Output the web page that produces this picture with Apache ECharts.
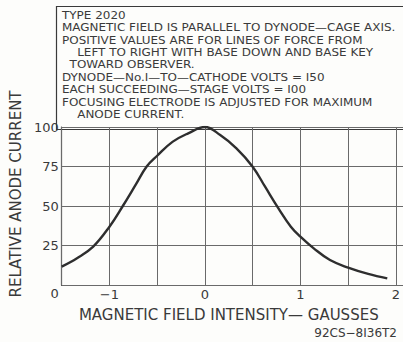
<!DOCTYPE html>
<html><head><meta charset="utf-8">
<script src="https://cdn.jsdelivr.net/npm/echarts@6/dist/echarts.min.js"></script>
<style>html,body{margin:0;padding:0;background:#fdfdfb}#c{width:403px;height:342px}</style>
</head><body><div id="c"></div>
<script>
const fieldGauss = [-1.5, -1.34, -1.17, -1.0, -0.86, -0.72, -0.61, -0.5, -0.34, -0.175, 0, 0.16, 0.33, 0.5, 0.63, 0.77, 0.9, 1.0, 1.14, 1.31, 1.5, 1.71, 1.91];
const relCurrent = [11.6, 16.9, 24.3, 36.9, 50, 64, 75, 81.8, 90.6, 96, 100, 94.9, 86.5, 74.9, 62.2, 48.5, 36.9, 30.6, 23.2, 15.8, 11, 7, 4.2];
const xTickLabels = {"-1": "\u22121", "0": "0", "1": "1", "2": "2"};
const yTickLabels = ["0", "25", "50", "75", "100"];
const noteLines = [
  "TYPE 2020",
  "MAGNETIC FIELD IS PARALLEL TO DYNODE\u2014CAGE AXIS.",
  "POSITIVE VALUES ARE FOR LINES OF FORCE FROM",
  "    LEFT TO RIGHT WITH BASE DOWN AND BASE KEY",
  "  TOWARD OBSERVER.",
  "DYNODE\u2014No.I\u2014TO\u2014CATHODE VOLTS = I50",
  "EACH SUCCEEDING\u2014STAGE VOLTS = I00",
  "FOCUSING ELECTRODE IS ADJUSTED FOR MAXIMUM",
  "    ANODE CURRENT."
];
const ink = '#3a3a3a';
const gridInk = '#6a6a6a';
const font = 'DejaVu Sans';
const noteTexts = noteLines.map((s, i) => ({
  type: 'text', x: 0, y: i * 12.4,
  style: {text: s, fill: ink, font: '10.5px "DejaVu Sans"', textVerticalAlign: 'top'}
}));
const chart = echarts.init(document.getElementById('c'), null, {renderer: 'svg'});
chart.setOption({
  backgroundColor: '#fdfdfb',
  animation: false,
  textStyle: {fontFamily: font},
  title: [{
    text: '92CS\u22128I36T2',
    right: 1, top: 322,
    textStyle: {fontSize: 12, fontWeight: 'normal', color: ink, fontFamily: font}
  }],
  graphic: [{
    type: 'rect', left: 54, top: 4,
    shape: {width: 348, height: 123},
    style: {fill: 'none', stroke: ink, lineWidth: 1.2}
  }, {
    type: 'group', x: 62, y: 10, scaleX: 1.14,
    children: noteTexts
  }],
  grid: {left: 55, right: 1, top: 127, bottom: 57},
  xAxis: {
    type: 'value', min: -1.5, max: 2, interval: 0.5,
    name: 'MAGNETIC FIELD INTENSITY\u2014 GAUSSES',
    nameLocation: 'middle', nameGap: 22,
    nameTextStyle: {fontSize: 15, color: ink, fontFamily: font},
    axisLine: {show: true, onZero: false, lineStyle: {color: ink, width: 1.2}},
    axisTick: {show: true, inside: true, length: 158, lineStyle: {color: gridInk, width: 1, type: 'solid'}},
    splitLine: {show: false},
    axisLabel: {
      fontSize: 13, color: ink, margin: 3, showMaxLabel: true, fontFamily: font,
      formatter: v => xTickLabels[String(v)] || ''
    }
  },
  yAxis: {
    type: 'value', min: 0, max: 100, interval: 25,
    name: 'RELATIVE ANODE CURRENT',
    nameLocation: 'middle', nameGap: 30,
    nameTextStyle: {fontSize: 15, color: ink, fontFamily: font, padding: [0, 0, 0, 24]},
    axisLine: {show: true, onZero: false, lineStyle: {color: ink, width: 1.2}},
    axisTick: {show: true, inside: true, length: 347, lineStyle: {color: gridInk, width: 1, type: 'solid'}},
    splitLine: {show: false},
    axisLabel: {
      fontSize: 13, color: ink, margin: 3, fontFamily: font,
      formatter: v => v === 0 ? '{z|' + yTickLabels[0] + '}' : yTickLabels[v / 25],
      rich: {z: {fontSize: 13, color: ink, fontFamily: font, padding: [16, 0, 0, 0]}}
    }
  },
  series: [{
    type: 'line', smooth: 0.4, symbol: 'none',
    lineStyle: {color: '#2e2e2e', width: 2.4},
    data: fieldGauss.map((x, i) => [x, relCurrent[i]])
  }]
});
</script></body></html>
